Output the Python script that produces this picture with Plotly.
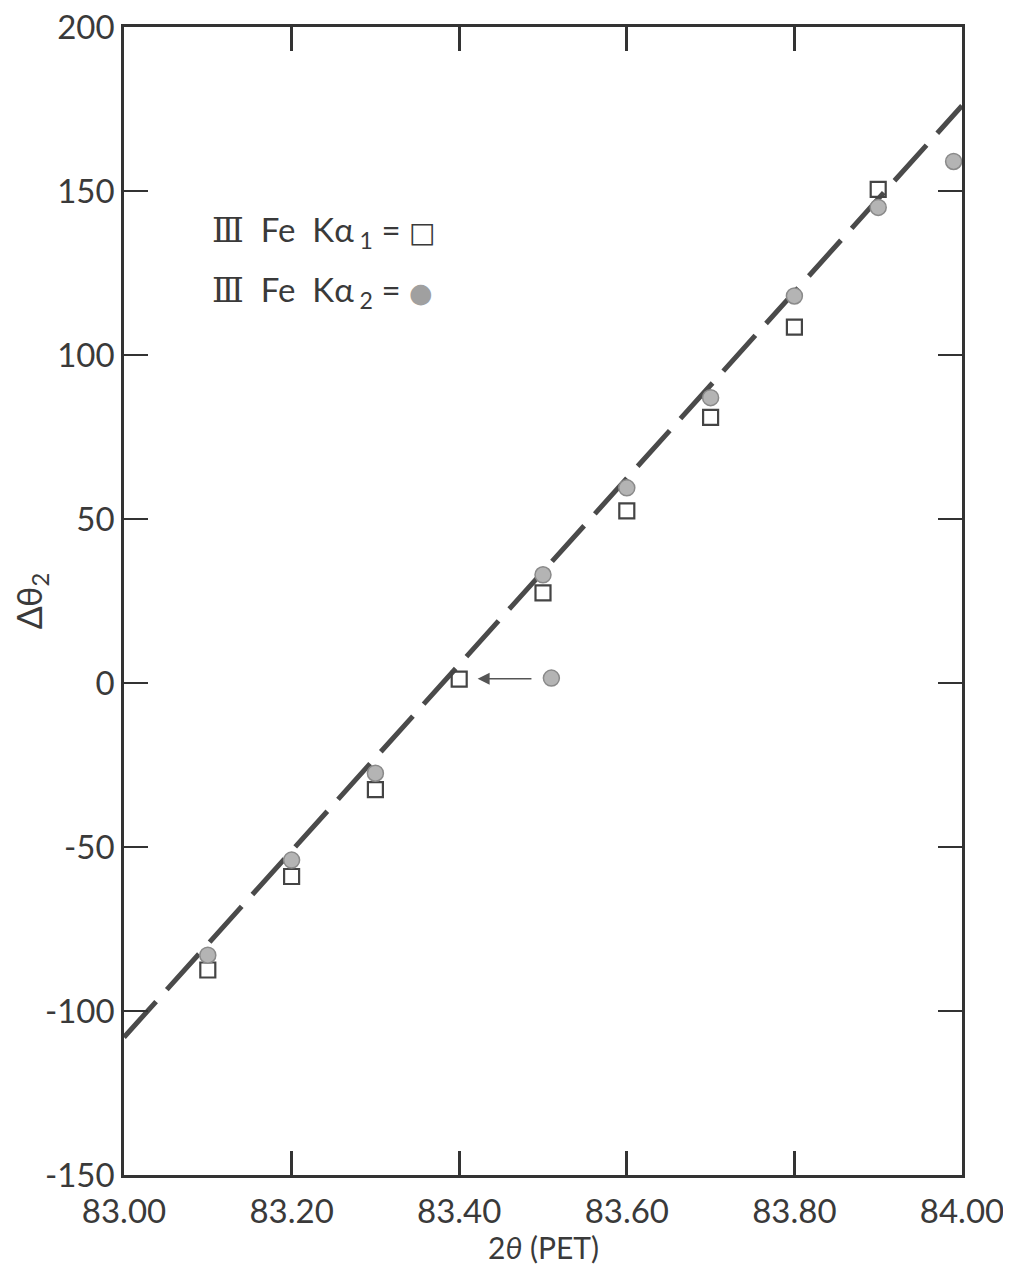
import plotly.graph_objects as go

# Fe K-alpha1 (open squares)
ka1_x = [83.10, 83.20, 83.30, 83.40, 83.50, 83.60, 83.70, 83.80, 83.90]
ka1_y = [-87.5, -59, -32.5, 1.2, 27.5, 52.5, 81, 108.5, 150.5]

# Fe K-alpha2 (grey filled circles)
ka2_x = [83.10, 83.20, 83.30, 83.50, 83.51, 83.60, 83.70, 83.80, 83.90, 83.99]
ka2_y = [-83, -54, -27.5, 33, 1.5, 59.5, 87, 118, 145, 159]

# dashed fit line
fit_x = [83.00, 84.00]
fit_y = [-108, 176]

x_ticks = [83.00, 83.20, 83.40, 83.60, 83.80, 84.00]
x_ticklabels = ["83.00", "83.20", "83.40", "83.60", "83.80", "84.00"]
y_ticks = [-150, -100, -50, 0, 50, 100, 150, 200]
y_ticklabels = ["-150", "-100", "-50", "0", "50", "100", "150", "200"]

FONT = "Lato"
INK = "#3a3a3a"

fig = go.Figure()
fig.add_trace(go.Scatter(x=fit_x, y=fit_y, mode="lines",
                         line=dict(color="#4a4a4a", width=5, dash="48px,16px"),
                         hoverinfo="skip", showlegend=False))
fig.add_trace(go.Scatter(x=ka1_x, y=ka1_y, mode="markers",
                         marker=dict(symbol="square-open", size=15, color="#444444",
                                     line=dict(width=2.2, color="#444444")),
                         showlegend=False))
fig.add_trace(go.Scatter(x=ka2_x, y=ka2_y, mode="markers",
                         marker=dict(symbol="circle", size=16, color="#b4b4b4",
                                     line=dict(width=1.5, color="#8a8a8a")),
                         showlegend=False))

# arrow from the displaced circle to the square at 83.40
fig.add_annotation(x=83.422, y=1.3, ax=83.488, ay=1.3, xref="x", yref="y",
                   axref="x", ayref="y", text="", showarrow=True,
                   arrowhead=2, arrowsize=1.6, arrowwidth=1.5, arrowcolor="#555555")

# legend text
roman = "<span style='font-family:DejaVu Serif'>Ⅲ</span>"
fig.add_annotation(xref="paper", yref="paper", x=0.103, y=0.822, xanchor="left",
                   yanchor="middle", showarrow=False,
                   text=roman + "  Fe  Kα<sub> 1</sub> = <span style='font-family:DejaVu Sans;font-size:28px'>□</span>",
                   font=dict(family=FONT, size=33, color=INK))
fig.add_annotation(xref="paper", yref="paper", x=0.103, y=0.770, xanchor="left",
                   yanchor="middle", showarrow=False,
                   text=roman + "  Fe  Kα<sub> 2</sub> = <span style='font-family:DejaVu Sans;font-size:27px;color:#a0a0a0'>●</span>",
                   font=dict(family=FONT, size=33, color=INK))

# x-axis title as an annotation for precise placement
fig.add_annotation(xref="paper", yref="paper", x=0.5, y=-0.063, xanchor="center",
                   yanchor="middle", showarrow=False,
                   text="2<i>θ</i> (PET)", font=dict(family=FONT, size=30, color=INK))

fig.update_layout(
    width=1003, height=1262,
    margin=dict(l=116, r=49, t=19, b=95),
    paper_bgcolor="white", plot_bgcolor="white",
    font=dict(family=FONT, size=33, color=INK),
    showlegend=False,
)
fig.update_xaxes(range=[83.00, 84.00], tickvals=x_ticks, ticktext=x_ticklabels,
                 automargin=False, ticklabeloverflow="allow",
                 ticks="inside", ticklen=24, tickwidth=3, tickcolor="#333333",
                 ticklabelstandoff=6,
                 showline=True, linewidth=2.5, linecolor="#333333", mirror="ticks",
                 showgrid=False, zeroline=False,
                 tickfont=dict(family=FONT, size=33, color=INK))
fig.update_yaxes(range=[-150, 200], tickvals=y_ticks, ticktext=y_ticklabels,
                 automargin=False, ticklabeloverflow="allow",
                 ticks="inside", ticklen=24, tickwidth=1.5, tickcolor="#333333",
                 showline=True, linewidth=2.5, linecolor="#333333", mirror="ticks",
                 showgrid=False, zeroline=False,
                 tickfont=dict(family=FONT, size=33, color=INK),
                 title=dict(text="Δθ<sub>2</sub>", standoff=4,
                            font=dict(family=FONT, size=34, color=INK)))

fig.write_html("out.html")
